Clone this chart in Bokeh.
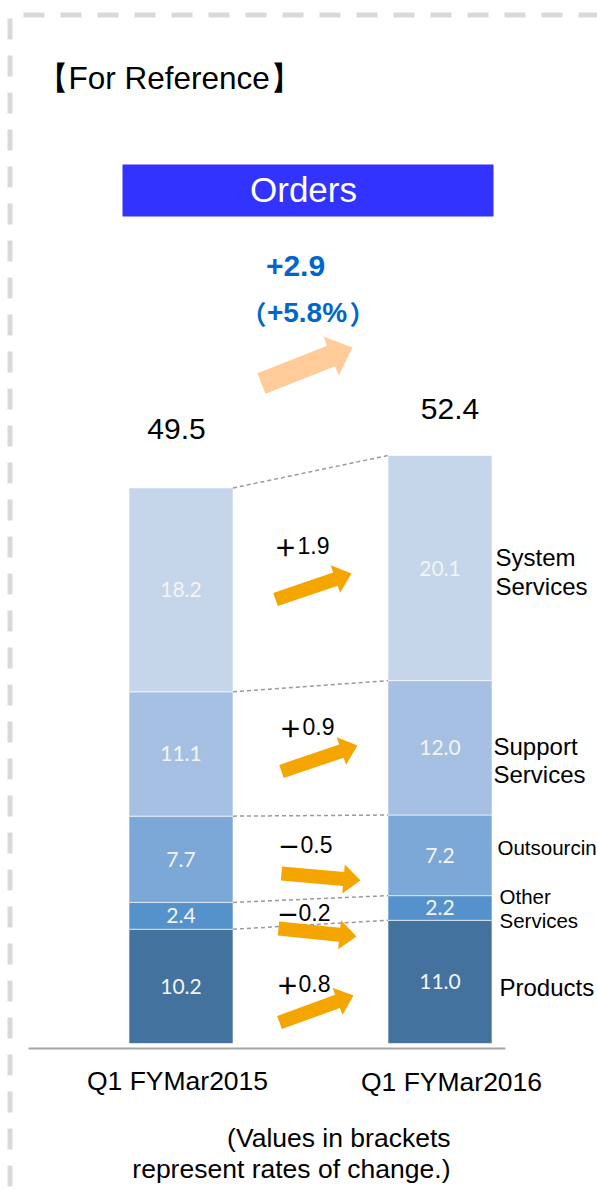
import math
from bokeh.plotting import figure
from bokeh.models import ColumnDataSource, Range1d
from bokeh.core.properties import value
from bokeh.embed import file_html
from bokeh.resources import INLINE

# ---------------- data ----------------
periods = ["Q1 FYMar2015", "Q1 FYMar2016"]
segments = ["Products", "Other Services", "Outsourcing", "Support Services", "System Services"]
values_2015 = [10.2, 2.4, 7.7, 11.1, 18.2]
values_2016 = [11.0, 2.2, 7.2, 12.0, 20.1]
totals = ["49.5", "52.4"]
changes = ["＋0.8", "－0.2", "－0.5", "＋0.9", "＋1.9"]
total_change = "+2.9"
total_rate = ["（", "+5.8%", "）"]
title_text = "【For Reference】"
panel_title = "Orders"
note_lines = ["(Values in brackets", "represent rates of change.)"]
seg_label_lines = [["Products"], ["Other", "Services"], ["Outsourcing"],
                   ["Support", "Services"], ["System", "Services"]]

# ---------------- styles / layout ----------------
colors = ["#42729D", "#5592CC", "#7CA8D8", "#A5C0E3", "#C5D5EA"]
FONT = value("Liberation Sans")
CJK = value("Noto Sans CJK JP")
W, H = 597, 1194
BASE = 1043.0      # pixel row of value 0
PPU = 11.2         # pixels per unit


def v(py):
    return (BASE - py) / PPU


p = figure(width=W, height=H, x_range=Range1d(0, W),
           y_range=Range1d(v(H), v(0)), output_backend="svg",
           toolbar_location=None, x_axis_location=None, y_axis_location=None,
           min_border=0)
p.grid.visible = False
p.outline_line_color = None

# dashed frame
p.line(x=[23, W], y=[v(14.5), v(14.5)], line_color="#D9D9D9", line_width=5,
       line_dash="21 16")
p.line(x=[9.5, 9.5], y=[v(18), v(H)], line_color="#D9D9D9", line_width=5,
       line_dash="21 16")

# title
p.text(x=[36], y=[v(77)], text=[title_text], text_font=FONT, text_font_size="31.5px",
       text_align="left", text_baseline="middle", text_color="black")

# blue header box
p.quad(left=[122], right=[493], top=[v(164)], bottom=[v(216)], fill_color="#3333FF",
       line_color=None)
p.text(x=[303], y=[v(189)], text=[panel_title], text_font=FONT, text_font_size="35px",
       text_align="center", text_baseline="middle", text_color="white")

# total change
BLUE = "#0066CC"
p.text(x=[295], y=[v(265)], text=[total_change], text_font=FONT, text_font_size="30px",
       text_font_style="bold", text_align="center", text_baseline="middle",
       text_color=BLUE)
p.text(x=[266], y=[v(312)], text=[total_rate[0]], text_font=CJK, text_font_size="26px",
       text_font_style="bold", text_align="right", text_baseline="middle",
       text_color=BLUE)
p.text(x=[306.5], y=[v(312)], text=[total_rate[1]], text_font=FONT, text_font_size="28px",
       text_font_style="bold", text_align="center", text_baseline="middle",
       text_color=BLUE)
p.text(x=[349], y=[v(312)], text=[total_rate[2]], text_font=CJK, text_font_size="26px",
       text_font_style="bold", text_align="left", text_baseline="middle",
       text_color=BLUE)


def arrow(tail, tip, body, head, hlen):
    (x0, y0), (x1, y1) = tail, tip
    dx, dy = x1 - x0, y1 - y0
    L = math.hypot(dx, dy)
    ux, uy = dx / L, dy / L
    nx, ny = -uy, ux
    bx, by = x1 - ux * hlen, y1 - uy * hlen
    pts = [(x0 + nx * body / 2, y0 + ny * body / 2),
           (bx + nx * body / 2, by + ny * body / 2),
           (bx + nx * head / 2, by + ny * head / 2),
           (x1, y1),
           (bx - nx * head / 2, by - ny * head / 2),
           (bx - nx * body / 2, by - ny * body / 2),
           (x0 - nx * body / 2, y0 - ny * body / 2)]
    return [q[0] for q in pts], [v(q[1]) for q in pts]


# big peach arrow
ax, ay = arrow((261, 383), (352, 347), 22, 42, 23)
p.patch(x=ax, y=ay, fill_color="#FFCC99", line_color=None)

# bars
bar_x = [180.5, 439.5]
bar_w = 104
tops_all = []
for i, vals in enumerate([values_2015, values_2016]):
    bottoms, tops = [], []
    acc = 0.0
    for val in vals:
        bottoms.append(acc)
        acc += val
        tops.append(acc)
    tops_all.append(tops)
    src = ColumnDataSource(dict(
        x=[bar_x[i]] * len(vals), bottom=bottoms, top=tops, color=colors,
        label=[f"{val:.1f}" for val in vals],
        mid=[(b + t) / 2 for b, t in zip(bottoms, tops)]))
    p.vbar(x="x", width=bar_w, bottom="bottom", top="top", fill_color="color",
           line_color="white", line_width=1, line_alpha=0.6, source=src)
    p.text(x="x", y="mid", text="label", source=src, text_font=value("Lato"),
           text_font_size="21px", text_align="center", text_baseline="middle",
           text_color="#F4F4F4")

# connectors
p.segment(x0=[bar_x[0] + bar_w / 2] * 5, y0=tops_all[0],
          x1=[bar_x[1] - bar_w / 2] * 5, y1=tops_all[1],
          line_color="#9A9A9A", line_width=1.5, line_dash="4 3")

# totals
total_pos = [(176, 428), (449.5, 408)]
p.text(x=[q[0] for q in total_pos], y=[v(q[1]) for q in total_pos], text=totals,
       text_font=FONT, text_font_size="30px", text_align="center",
       text_baseline="middle", text_color="black")

# change arrows and labels
arrow_specs = [((279, 1022), (353, 995)),
               ((278, 928), (356, 936)),
               ((281, 873), (360, 880)),
               ((281, 771), (357, 745)),
               ((275, 599), (351, 573))]
for tail, tip in arrow_specs:
    ax, ay = arrow(tail, tip, 14, 29, 17)
    p.patch(x=ax, y=ay, fill_color="#F5A500", line_color=None)

sign_x = [287, 287.5, 288.5, 290, 285]
num_x = [298, 298, 300, 302, 297]
change_y = [983, 912, 844, 726, 545]
p.text(x=sign_x, y=[v(y) for y in change_y], text=[c[0] for c in changes],
       text_font=CJK, text_font_size="23px", text_font_style="bold",
       text_align="center", text_baseline="middle", text_color="black")
p.text(x=num_x, y=[v(y) for y in change_y], text=[c[1:] for c in changes],
       text_font=FONT, text_font_size="23px", text_align="left",
       text_baseline="middle", text_color="black")

# segment labels
seg_label_pos = [(499, [987], "24px"), (499, [896, 920], "20.5px"), (497, [847], "20.5px"),
                 (493, [746, 774], "24px"), (495, [557, 586], "24px")]
for (lx, ys, fs), lines in zip(seg_label_pos, seg_label_lines):
    p.text(x=[lx] * len(lines), y=[v(y) for y in ys], text=lines, text_font=FONT,
           text_font_size=fs, text_align="left", text_baseline="middle",
           text_color="black")

# baseline
p.segment(x0=[28], y0=[v(1048)], x1=[505], y1=[v(1048)], line_color="#A6A6A6",
          line_width=2)

# category labels
cat_pos = [(177, 1080), (451, 1081)]
p.text(x=[q[0] for q in cat_pos], y=[v(q[1]) for q in cat_pos], text=periods,
       text_font=FONT, text_font_size="26.5px", text_align="center",
       text_baseline="middle", text_color="black")

# note
p.text(x=[450, 450], y=[v(1137), v(1168)], text=note_lines, text_font=FONT,
       text_font_size="26.5px", text_align="right", text_baseline="middle",
       text_color="black")

open("out.html", "w").write(file_html(p, INLINE))
